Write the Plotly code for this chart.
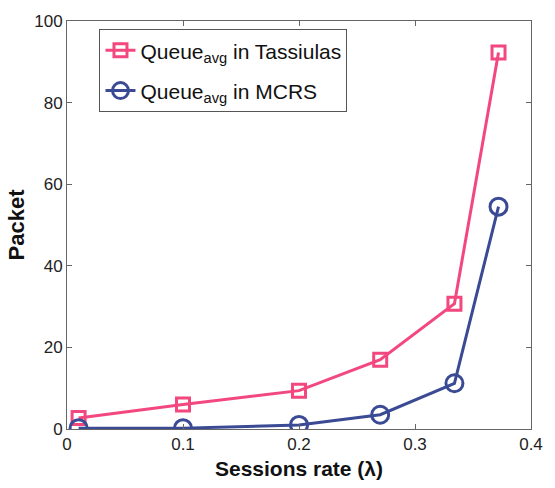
import plotly.graph_objects as go

x_vals = [0.01, 0.1, 0.2, 0.27, 0.334, 0.372]
tassiulas = [2.7, 6.0, 9.4, 17.0, 30.7, 92.3]
mcrs = [0.2, 0.2, 1.0, 3.5, 11.2, 54.5]
x_ticks = [0, 0.1, 0.2, 0.3, 0.4]
y_ticks = [0, 20, 40, 60, 80, 100]

pink = "#F2477F"
blue = "#3A4A94"

fig = go.Figure()
fig.add_trace(go.Scatter(
    x=x_vals, y=tassiulas, mode="lines+markers",
    name="Queue<sub>avg</sub> in Tassiulas", legendgroup="a",
    line=dict(color=pink, width=3),
    marker=dict(symbol="square-open", size=13, color=pink, line=dict(width=3, color=pink)),
))
fig.add_trace(go.Scatter(
    x=x_vals, y=mcrs, mode="lines+markers",
    name="Queue<sub>avg</sub> in MCRS", legendgroup="b",
    line=dict(color=blue, width=3),
    marker=dict(symbol="circle-open", size=17, color=blue, line=dict(width=3, color=blue)),
))

axis_common = dict(
    showgrid=False, zeroline=False, showline=True, linecolor="#666666", linewidth=1,
    mirror="ticks", ticks="inside", ticklen=5, tickcolor="#666666",
    tickfont=dict(family="Liberation Sans, Arial", size=17, color="#222222"),
)
fig.update_xaxes(range=[0, 0.4], tickvals=x_ticks, ticktext=["0", "0.1", "0.2", "0.3", "0.4"],
                 title=dict(text="<b>Sessions rate (λ)</b>", font=dict(family="Liberation Sans, Arial", size=21, color="#111111"), standoff=7),
                 **axis_common)
fig.update_yaxes(range=[0, 100], tickvals=y_ticks,
                 title=dict(text="<b>Packet</b>", font=dict(family="Liberation Sans, Arial", size=22, color="#111111"), standoff=3),
                 **axis_common)

fig.update_layout(
    width=555, height=488,
    margin=dict(l=67, r=15, t=17, b=58),
    plot_bgcolor="white", paper_bgcolor="white",
    legend=dict(
        x=0.07, y=0.98, xanchor="left", yanchor="top",
        bgcolor="white", bordercolor="#555555", borderwidth=1,
        font=dict(family="Liberation Sans, Arial", size=21, color="#111111"),
        traceorder="grouped", tracegroupgap=10,
    ),
    showlegend=True,
)

fig.write_html("out.html")
